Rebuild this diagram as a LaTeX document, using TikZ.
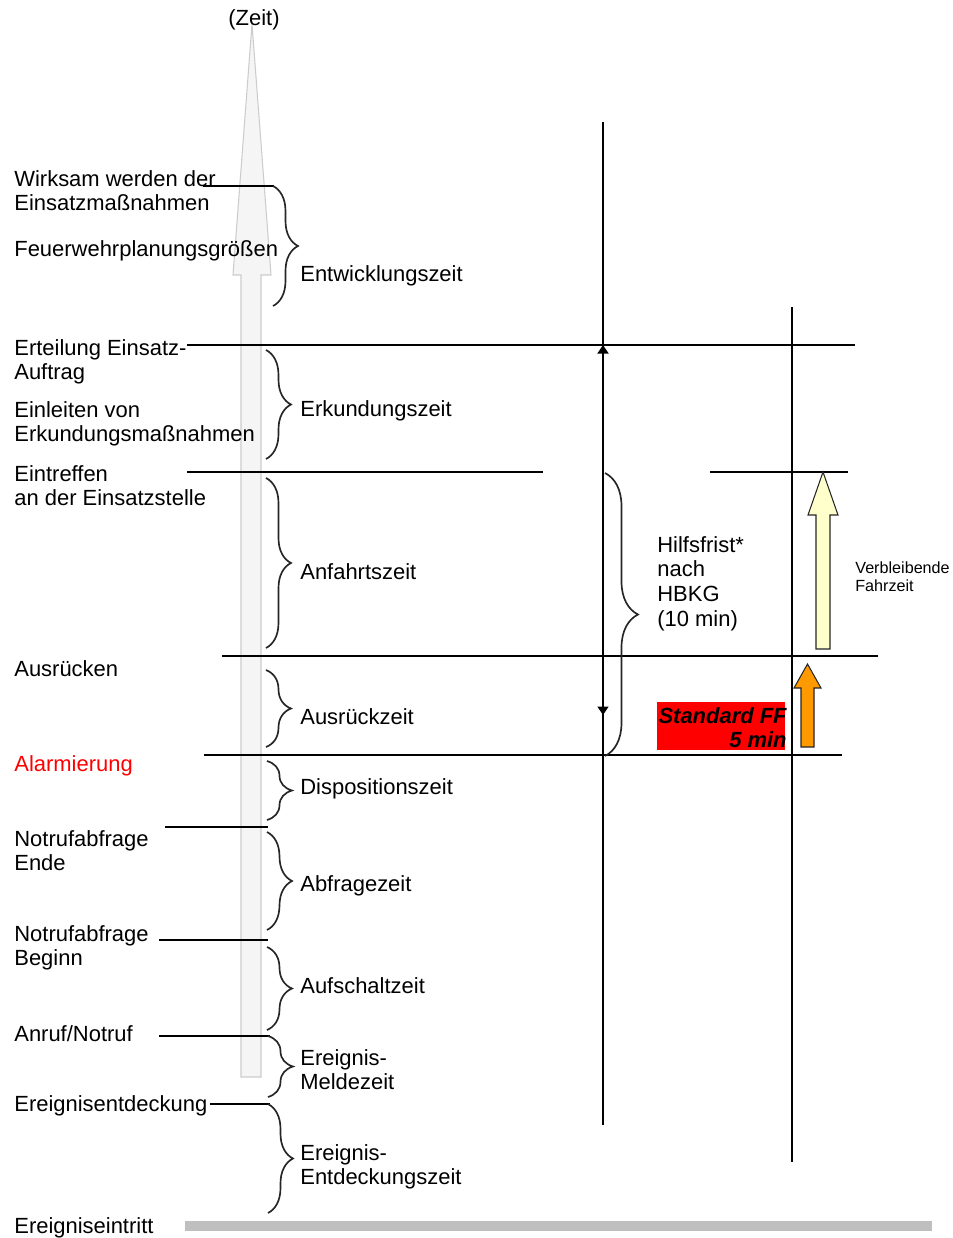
\documentclass[tikz,border=0pt]{standalone}
\usepackage{fontspec}
\setmainfont{Liberation Sans}
\usetikzlibrary{arrows.meta,decorations.pathreplacing}

\definecolor{paleyellow}{HTML}{FFFFCC}
\definecolor{fforange}{HTML}{FF9900}

\begin{document}
\begin{tikzpicture}[x=0.02cm, y=-0.02cm,
	every node/.style={font=\fontsize{12.5}{13.6}\selectfont, inner sep=0pt, yshift=-0.03cm},
	lbl/.style={anchor=west, align=left},
	zbrace/.style={decorate, decoration={brace, amplitude=#1}, draw=black!85, line width=0.95pt},
	zbrace/.default=0.5cm,
	tline/.style={line width=0.8pt},
	blockarrow/.style={draw=black!85, line width=0.6pt},
	>={Triangle[length=0.17cm, width=0.22cm]}]
	\useasboundingbox (0,0) rectangle (953,1238);

	% time axis (big grey arrow)
	\filldraw[fill=gray!8, draw=gray!40, line width=0.6pt]
		(241,1077) -- (241,275) -- (233,275) -- (252,24) -- (271,275) -- (261,275) -- (261,1077) -- cycle;
	\node (zeit) at (254,18) {(Zeit)};

	% base bar
	\fill[gray!50] (185,1221) rectangle (932,1231);

	% horizontal markers
	\draw[tline] (203,186) -- (274,186);
	\draw[tline] (187,345) -- (855,345);
	\draw[tline] (187,472) -- (543,472);
	\draw[tline] (710,472) -- (848,472);
	\draw[tline] (222,656) -- (878,656);
	\draw[tline] (204,755) -- (842,755);
	\draw[tline] (165,827) -- (268,827);
	\draw[tline] (159,940) -- (268,940);
	\draw[tline] (159,1036) -- (270,1036);
	\draw[tline] (210,1104) -- (270,1104);

	% vertical lines
	\draw[tline] (603,122) -- (603,1125);
	\draw[tline] (792,307) -- (792,1162);
	\draw[tline, <->] (603,345) -- (603,715);

	% left labels
	\node[lbl] (wirk) at (14,189) {Wirksam werden der\\Einsatzmaßnahmen};
	\node[lbl] (fwpg) at (14,249) {Feuerwehrplanungsgrößen};
	\node[lbl] (ert) at (14,360) {Erteilung Einsatz-\\Auftrag};
	\node[lbl] (einl) at (14,422) {Einleiten von\\Erkundungsmaßnahmen};
	\node[lbl] (eintr) at (14,484) {Eintreffen\\an der Einsatzstelle};
	\node[lbl] (ausr) at (14,667) {Ausrücken};
	\node[lbl, text=red] (alarm) at (14,764) {Alarmierung};
	\node[lbl] (nende) at (14,849) {Notrufabfrage\\Ende};
	\node[lbl] (nbeg) at (14,946) {Notrufabfrage\\Beginn};
	\node[lbl] (anruf) at (14,1032) {Anruf/Notruf};
	\node[lbl] (entd) at (14,1104) {Ereignisentdeckung};
	\node[lbl] (eintritt) at (14,1226) {Ereigniseintritt};

	% braces with phase names
	\foreach \bx/\bt/\bb/\ly/\txt [count=\i] in {
		273/186/306/274/Entwicklungszeit,
		266/350/459/409/Erkundungszeit,
		266/478/648/570/Anfahrtszeit,
		266/670/747/715/Ausrückzeit,
		267/761/820/787/Dispositionszeit,
		267/832/930/884/Abfragezeit,
		267/947/1030/984/Aufschaltzeit,
		268/1036/1097/1068/{Ereignis-\\Meldezeit},
		268/1104/1213/1165/{Ereignis-\\Entdeckungszeit}} {
		\draw[zbrace] (\bx,\bt) -- (\bx,\bb);
		\node[lbl] (phase\i) at (300,\ly) {\txt};
	}

	% Hilfsfrist
	\draw[zbrace=0.66cm] (605,473) -- (605,756);
	\node[lbl, font=\fontsize{12.5}{14}\selectfont] (hilfs) at (657,582) {Hilfsfrist*\\nach\\HBKG\\(10 min)};

	% Standard FF
	\fill[red] (657,702) rectangle (785,750);
	\node[anchor=east, align=right, font=\fontsize{12.5}{13.6}\selectfont\bfseries\itshape] (stdff) at (787,726) {Standard FF\\5 min};

	% driving time arrows
	\filldraw[blockarrow, fill=paleyellow]
		(816,649) -- (816,515) -- (808,515) -- (823,472) -- (838,515) -- (830,515) -- (830,649) -- cycle;
	\filldraw[blockarrow, fill=fforange]
		(801,747) -- (801,688) -- (794,688) -- (807.5,664) -- (821,688) -- (814,688) -- (814,747) -- cycle;
	\node[lbl, font=\fontsize{9.2}{10.2}\selectfont] (verbl) at (855,575) {Verbleibende\\Fahrzeit};
\end{tikzpicture}
\end{document}
